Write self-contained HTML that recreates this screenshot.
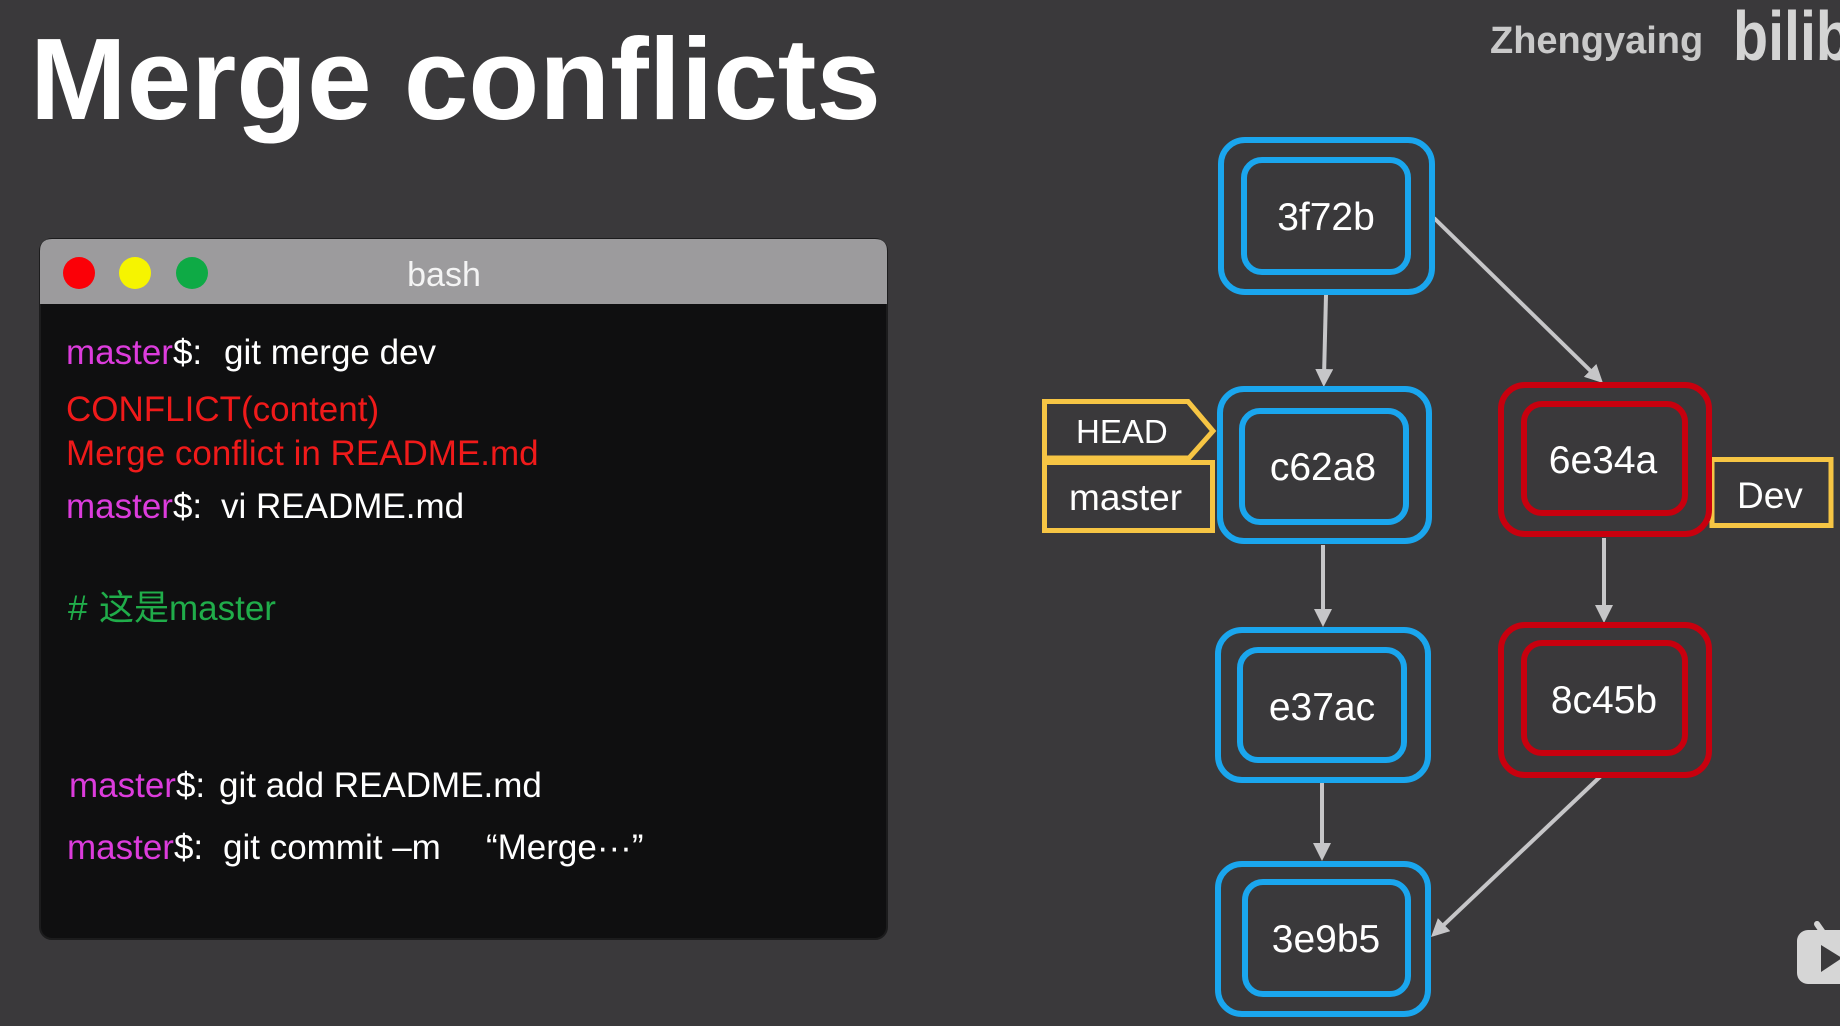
<!DOCTYPE html>
<html>
<head>
<meta charset="utf-8">
<style>
  html, body { margin: 0; padding: 0; background: #3a393b; }
  body { width: 1840px; height: 1026px; overflow: hidden; }
  svg { display: block; }
  text { font-family: "Liberation Sans", "Noto Sans CJK SC", sans-serif; }
</style>
</head>
<body>
<svg width="1840" height="1026" viewBox="0 0 1840 1026" xmlns="http://www.w3.org/2000/svg">
  <defs>
    <marker id="ah" markerWidth="18" markerHeight="18" refX="8" refY="9" orient="auto" markerUnits="userSpaceOnUse">
      <path d="M0,0 L18,9 L0,18 z" fill="#c6c6c8"/>
    </marker>
  </defs>

  <rect x="0" y="0" width="1840" height="1026" fill="#3a393b"/>

  <!-- Title -->
  <text x="30" y="119" font-size="116" font-weight="bold" fill="#ffffff">Merge conflicts</text>

  <!-- Watermark -->
  <text x="1490" y="53" font-size="38" font-weight="bold" fill="#c9c9c9">Zhengyaing</text>
  <text x="1733" y="60" font-size="70" font-weight="bold" fill="#d4d4d4" textLength="118" lengthAdjust="spacingAndGlyphs">bilib</text>

  <!-- Bilibili TV icon -->
  <g>
    <line x1="1817" y1="924" x2="1824" y2="934" stroke="#d6d6d6" stroke-width="6" stroke-linecap="round"/>
    <rect x="1797" y="930" width="60" height="54" rx="11" fill="#d6d6d6"/>
    <path d="M1821,945 L1842,958 L1821,972 z" fill="#3a393b"/>
  </g>

  <!-- Terminal window -->
  <rect x="40" y="239" width="847" height="700" rx="12" fill="#0f0f10" stroke="#1c1c1d" stroke-width="2"/>
  <path d="M40,304 L40,251 Q40,239 52,239 L875,239 Q887,239 887,251 L887,304 z" fill="#9c9b9d"/>
  <circle cx="79" cy="273" r="16" fill="#fb0007"/>
  <circle cx="135" cy="273" r="16" fill="#f6f400"/>
  <circle cx="192" cy="273" r="16" fill="#0eaa45"/>
  <text x="444" y="286" font-size="34" fill="#f4f4f4" text-anchor="middle">bash</text>

  <!-- Terminal lines -->
  <g font-size="35">
    <text x="66" y="364"><tspan fill="#dc3cdc">master</tspan><tspan fill="#ffffff">$:</tspan></text>
    <text x="224" y="364" fill="#ffffff">git merge dev</text>

    <text x="66" y="421" fill="#f01a1a">CONFLICT(content)</text>
    <text x="66" y="465" fill="#f01a1a">Merge conflict in README.md</text>

    <text x="66" y="518"><tspan fill="#dc3cdc">master</tspan><tspan fill="#ffffff">$:</tspan></text>
    <text x="221" y="518" fill="#ffffff">vi README.md</text>

    <text x="68" y="620" fill="#20ad4a">#</text>
    <text x="99" y="620" fill="#20ad4a">这是master</text>

    <text x="69" y="797"><tspan fill="#dc3cdc">master</tspan><tspan fill="#ffffff">$:</tspan></text>
    <text x="219" y="797" fill="#ffffff">git add README.md</text>

    <text x="67" y="859"><tspan fill="#dc3cdc">master</tspan><tspan fill="#ffffff">$:</tspan></text>
    <text x="223" y="859" fill="#ffffff">git commit –m</text>
    <text x="486" y="859" fill="#ffffff">“Merge···”</text>
  </g>

  <!-- Arrows -->
  <g stroke="#c6c6c8" stroke-width="4" fill="none" marker-end="url(#ah)">
    <line x1="1326" y1="295" x2="1324" y2="377"/>
    <line x1="1434" y1="218" x2="1595.8" y2="376"/>
    <line x1="1323" y1="545" x2="1323" y2="617"/>
    <line x1="1604" y1="538" x2="1604" y2="613"/>
    <line x1="1322" y1="783" x2="1322" y2="851"/>
    <line x1="1603" y1="774" x2="1438.3" y2="930.1"/>
  </g>

  <!-- Yellow labels -->
  <g stroke="#f6c544" stroke-width="5" fill="#3a393b" stroke-linejoin="miter">
    <rect x="1712" y="459.5" width="119" height="66"/>
    <path d="M1044.5,401.5 L1188,401.5 L1213,431 L1189,458 L1044.5,458 z"/>
    <rect x="1044.5" y="462.5" width="168" height="68"/>
  </g>
  <g font-size="33" fill="#ffffff">
    <text x="1076" y="443">HEAD</text>
  </g>
  <g font-size="37" fill="#ffffff">
    <text x="1069" y="510">master</text>
    <text x="1737" y="508">Dev</text>
  </g>

  <!-- Blue nodes -->
  <g stroke="#1aa6ee" stroke-width="6" fill="none">
    <rect x="1221" y="140" width="211" height="152" rx="24"/>
    <rect x="1244" y="160" width="164" height="112" rx="18"/>

    <rect x="1220" y="389" width="209" height="152" rx="24"/>
    <rect x="1242" y="411" width="164" height="111" rx="18"/>

    <rect x="1218" y="630" width="210" height="150" rx="24"/>
    <rect x="1240" y="650" width="164" height="110" rx="18"/>

    <rect x="1218" y="864" width="210" height="150" rx="24"/>
    <rect x="1245" y="882" width="163" height="112" rx="18"/>
  </g>

  <!-- Red nodes -->
  <g stroke="#c8000e" stroke-width="6" fill="none">
    <rect x="1501" y="385" width="208" height="149" rx="24"/>
    <rect x="1524" y="404" width="161" height="109" rx="18"/>

    <rect x="1501" y="625" width="208" height="150" rx="24"/>
    <rect x="1524" y="643" width="161" height="110" rx="18"/>
  </g>

  <!-- Node labels -->
  <g font-size="39" fill="#ffffff" text-anchor="middle">
    <text x="1326" y="230">3f72b</text>
    <text x="1323" y="480">c62a8</text>
    <text x="1322" y="720">e37ac</text>
    <text x="1326" y="952">3e9b5</text>
    <text x="1603" y="473">6e34a</text>
    <text x="1604" y="713">8c45b</text>
  </g>
</svg>
</body>
</html>
